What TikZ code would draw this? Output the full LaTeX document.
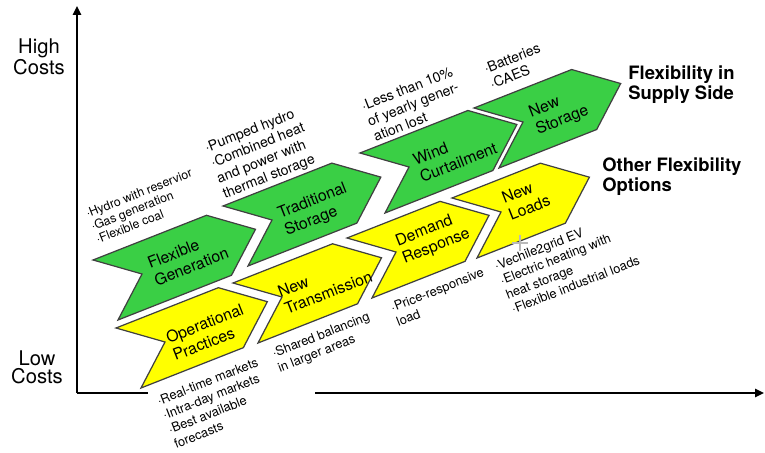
\documentclass[tikz,border=0pt]{standalone}
\usepackage{fontspec}
\setmainfont{TeX Gyre Heros}
\usetikzlibrary{arrows.meta}

\definecolor{chevgreen}{RGB}{58,207,69}
\definecolor{chevyellow}{RGB}{255,255,0}

% slanted chevron: fill colour, top-left corner, length, name
\newcommand\chevron[4]{%
  \draw[chev, fill=#1] (#2) coordinate (#4-tl) -- ++(-21.5:#3) coordinate (#4-tr)
    -- ++(49,14) coordinate (#4-tip) -- ++(-24,46) coordinate (#4-br)
    -- ++(158.5:#3) coordinate (#4-bl) -- ++(24,-46) coordinate (#4-notch) -- cycle;}

\begin{document}
\begin{tikzpicture}[x=0.02cm, y=-0.02cm,
    chev/.style={draw=black!75, line width=0.7pt, line join=miter},
    tag/.style={rotate=21.5, align=left, inner sep=0pt, font=\fontsize{9}{10.5}\selectfont},
    notes/.style={rotate=21.5, align=left, inner sep=0pt, font=\fontsize{7.3}{8.8}\selectfont},
    bignotes/.style={notes, font=\fontsize{8}{9.4}\selectfont},
    axis/.style={line width=1.6pt},
    costs/.style={align=center, inner sep=0pt, font=\fontsize{11.5}{10.4}\selectfont},
    side/.style={anchor=west, align=left, inner sep=0pt, font=\fontsize{10.5}{11.3}\selectfont\bfseries}]

\useasboundingbox (0,0) rectangle (765,453);

% axes
\coordinate (origin) at (77,393);
\coordinate (top) at (77,6);
\coordinate (xgap) at (148,393);
\coordinate (xrest) at (315,393);
\coordinate (right) at (764,393);
\draw[axis, -{Triangle[length=5pt,width=4.5pt]}] (origin) -- (top);
\draw[axis] (origin) -- (xgap);
\draw[axis, -{Triangle[length=5pt,width=4.5pt]}] (xrest) -- (right);

\node[costs] (high) at (39,57) {High\\Costs};
\node[costs] (low) at (37,367) {Low\\Costs};

% supply side row
\chevron{chevgreen}{93,260}{122}{flexgenbox}
\chevron{chevgreen}{223,206}{117}{tradstorbox}
\chevron{chevgreen}{360,153}{116}{windcurtbox}
\chevron{chevgreen}{474,108}{105}{newstorbox}

% other options row
\chevron{chevyellow}{116,328}{110}{opbox}
\chevron{chevyellow}{233,283}{107}{newtransbox}
\chevron{chevyellow}{347,238}{100}{demrespbox}
\chevron{chevyellow}{452,198}{95}{newloadsbox}

\node[tag] (flexgen) at (188,258) {Flexible\\Generation};
\node[tag] (tradstor) at (316,210) {Traditional\\Storage};
\node[tag] (windcurt) at (455,154) {Wind\\Curtailment};
\node[tag] (newstor) at (559,112) {New\\Storage};
\node[tag] (oppract) at (208,332) {Operational\\Practices};
\node[tag] (newtrans) at (325,284) {New\\Transmission};
\node[tag] (demresp) at (433,238) {Demand\\Response};
\node[tag] (newloads) at (526,199) {New\\Loads};

% bullet lists
\node[notes, font=\fontsize{7}{7.9}\selectfont] (flexgen-notes) at (144,206)
  {·Hydro with reservior\\·Gas generation\\·Flexible coal};
\node[bignotes] (tradstor-notes) at (261,154)
  {·Pumped hydro\\·Combined heat\\and power with\\thermal storage};
\node[bignotes] (windcurt-notes) at (413,104)
  {·Less than 10\%\\of yearly gener-\\ation lost};
\node[bignotes] (newstor-notes) at (515,66)
  {·Batteries\\·CAES};
\node[notes] (oppract-notes) at (216,403)
  {·Real-time markets\\·Intra-day markets\\·Best available\\forecasts};
\node[notes] (newtrans-notes) at (324,343)
  {·Shared balancing\\in larger areas};
\node[notes] (demresp-notes) at (440,297)
  {·Price-responsive\\load};
\node[notes] (newloads-notes) at (567,263)
  {·Vechile2grid EV\\·Electric heating with\\heat storage\\·Flexible industrial loads};

\node[side] (supply) at (628,85) {Flexibility in\\Supply Side};
\node[side] (other) at (602,177) {Other Flexibility\\Options};

% cursor mark
\coordinate (mark) at (520,243);
\draw[gray!55, line width=0.6pt] ([xshift=-8*0.02cm]mark) -- ([xshift=8*0.02cm]mark)
  ([yshift=-8*0.02cm]mark) -- ([yshift=8*0.02cm]mark);

\end{tikzpicture}
\end{document}
